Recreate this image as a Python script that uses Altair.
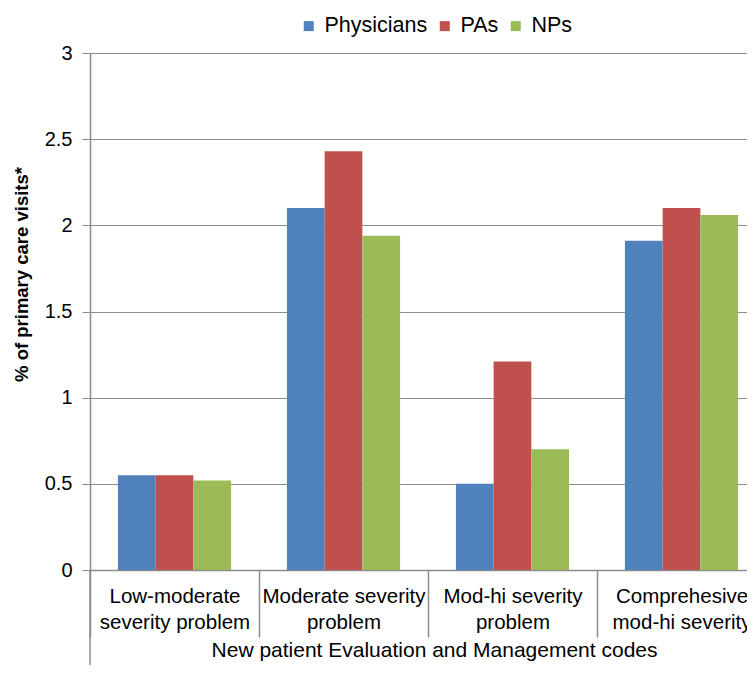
import altair as alt
import pandas as pd

categories = [
    "Low-moderate\nseverity problem",
    "Moderate severity\nproblem",
    "Mod-hi severity\nproblem",
    "Comprehesive\nmod-hi severity",
]
groups = ["Physicians", "PAs", "NPs"]
physicians = [0.55, 2.10, 0.50, 1.91]
pas = [0.55, 2.43, 1.21, 2.10]
nps = [0.52, 1.94, 0.70, 2.06]
colors = ["#4F81BD", "#C0504D", "#9BBB59"]

rows = []
for i, c in enumerate(categories):
    for g, vals in zip(groups, [physicians, pas, nps]):
        rows.append({"category": c, "group": g, "value": vals[i]})
df = pd.DataFrame(rows)

W, H = 657, 517
FONT = "Liberation Sans"
GRAY = "#8c8c8c"

bars = alt.Chart(df).mark_bar().encode(
    x=alt.X("category:N", sort=categories,
            scale=alt.Scale(paddingInner=0, paddingOuter=0, range=[0, 676]),
            axis=alt.Axis(title="New patient Evaluation and Management codes",
                          labelAngle=0, labelExpr="split(datum.label, '\\n')",
                          tickBand="extent", tickSize=67, tickColor=GRAY,
                          tickWidth=1.5,
                          domainColor=GRAY, labelPadding=-51,
                          labelLineHeight=26, labelFontSize=20.5,
                          titleFontSize=21, titleFontWeight="normal",
                          titlePadding=2, labelColor="#000", titleColor="#000",
                          labelFont=FONT, titleFont=FONT, titleX=344)),
    xOffset=alt.XOffset("group:N", sort=groups,
                        scale=alt.Scale(paddingInner=0, paddingOuter=0.74)),
    y=alt.Y("value:Q", scale=alt.Scale(domain=[0, 3]),
            axis=alt.Axis(title="% of primary care visits*",
                          values=[0, 0.5, 1, 1.5, 2, 2.5, 3], format="~g",
                          tickSize=8, tickColor=GRAY, domainColor=GRAY,
                          gridColor=GRAY, labelFontSize=20, labelPadding=10,
                          titleFontSize=18.5, titleFontWeight="bold",
                          titlePadding=13, titleY=221,
                          labelColor="#000", titleColor="#000",
                          labelFont=FONT, titleFont=FONT)),
    color=alt.Color("group:N", sort=groups,
                    scale=alt.Scale(domain=groups, range=colors),
                    legend=alt.Legend(title=None, orient="none", direction="horizontal",
                                      legendX=208, legendY=-38, padding=0,
                                      symbolType="square", symbolSize=100,
                                      symbolStrokeWidth=0, labelFontSize=21.5,
                                      labelFont=FONT, labelColor="#000",
                                      columnPadding=6, labelOffset=5)),
)

ext = alt.Chart(pd.DataFrame({"a": [0]})).mark_rule(color=GRAY, strokeWidth=1.5).encode(
    x=alt.value(0), y=alt.value(H), y2=alt.value(H + 110)
)

chart = alt.layer(bars, ext).properties(
    width=W, height=H,
    autosize=alt.AutoSizeParams(type="none"),
    padding={"left": 82, "top": 45, "right": 0, "bottom": 95},
).configure_view(stroke=None).configure_axis(gridWidth=1, domainWidth=1.5)

chart.save("out.html", embed_options={"renderer": "svg", "actions": False})
